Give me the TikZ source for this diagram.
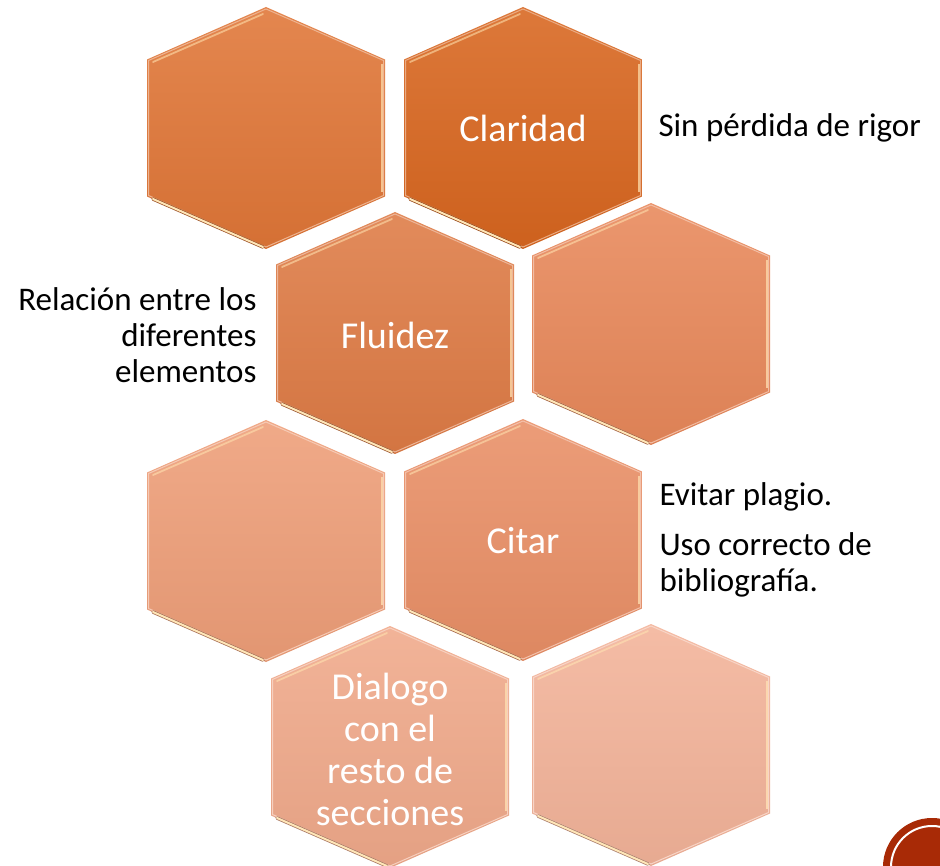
\documentclass[tikz,border=0pt]{standalone}
\usepackage{fontspec}
\setmainfont{Carlito}
\usepackage{xcolor}

\begin{document}
\begin{tikzpicture}[x=1pt,y=-1pt]
    \definecolor{HexA}{HTML}{E07637}
    \definecolor{HexB}{HTML}{D8661F}
    \definecolor{HexC}{HTML}{DE7B45}
    \definecolor{HexD}{HTML}{E8885A}
    \definecolor{HexE}{HTML}{EE9E78}
    \definecolor{HexF}{HTML}{E98F66}
    \definecolor{HexG}{HTML}{F0A98A}
    \definecolor{HexH}{HTML}{F3B399}
    \definecolor{Glint}{HTML}{FFE6B8}
    \definecolor{DeepRust}{HTML}{A82A06}
    \tikzset{
        hexlabel/.style={text=white,align=center,font=\fontsize{38}{42}\selectfont},
        sidenote/.style={text=black,font=\fontsize{33}{36}\selectfont}
    }
    \useasboundingbox (0,0) rectangle (940,866);
    \foreach \x/\y/\col in {266/128/HexA,523/128/HexB,395/333/HexC,651/324/HexD,
                            266/541/HexE,523/540/HexF,390/747/HexG,651/745/HexH}{%
        \shade[top color=\col!88!white,bottom color=\col!95!black]
            (\x,\y) ++(-119,-68.5) -- ++(119,-52.5) -- ++(119,52.5)
            -- ++(0,137) -- ++(-119,52.5) -- ++(-119,-52.5) -- cycle;
        \draw[\col!55!white,line width=1pt,line join=round]
            (\x,\y) ++(-117.5,-67.5) -- ++(117.5,-51.5) -- ++(117.5,51.5)
            -- ++(0,135) -- ++(-117.5,51.5) -- ++(-117.5,-51.5) -- cycle;
        \draw[\col!70!black,line width=3.5pt,line cap=round]
            (\x,\y) ++(-113,71) -- ++(110,48);
        \draw[Glint,line width=2pt,line cap=round]
            (\x,\y) ++(-113,71) -- ++(110,48);
        \draw[Glint!60!\col,line width=1.8pt,line cap=round]
            (\x,\y) ++(-113,-66) -- ++(110,-48);
        \draw[Glint!70!\col,line width=1.5pt]
            (\x,\y) ++(116,-64) -- ++(0,128);
}
    % labels inside the hexagons
    \node[hexlabel] (claridad) at (523,128) {Claridad};
    \node[hexlabel] (fluidez) at (395,335) {Fluidez};
    \node[hexlabel] (citar) at (523,541) {Citar};
    \node[hexlabel] (dialogo) at (390,749) {Dialogo\\con el\\resto de\\secciones};
    % notes beside them
    \node[sidenote,anchor=west] (rigor) at (655,128) {Sin pérdida de rigor};
    \node[sidenote,anchor=east,align=right] (relacion) at (260,335)
        {Relación entre los\\diferentes\\elementos};
    \node[sidenote,anchor=west,align=left] (plagio) at (656,540)
        {Evitar plagio.\\[14pt]Uso correcto de\\bibliografía.};
    % corner badge
    \begin{scope}
        \clip (0,0) rectangle (940,866);
        \fill[DeepRust] (932,867) circle (49);
        \draw[white,line width=2pt] (932,867) circle (41);
    \end{scope}
\end{tikzpicture}
\end{document}
